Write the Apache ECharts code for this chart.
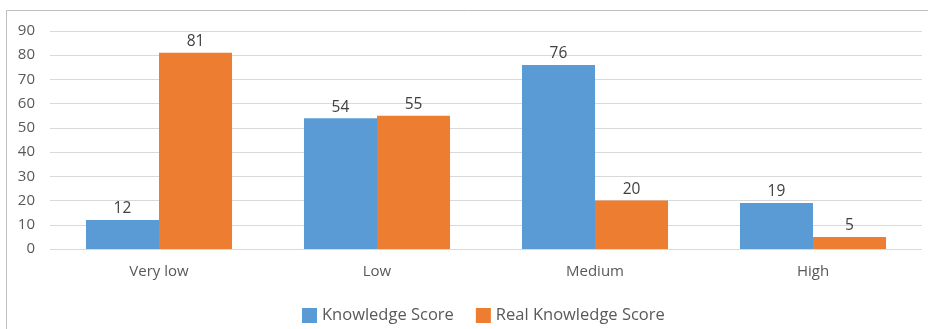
<!DOCTYPE html>
<html>
<head>
<meta charset="utf-8">
<script src="https://cdn.jsdelivr.net/npm/echarts@6/dist/echarts.min.js"></script>
<style>
  html, body { margin: 0; padding: 0; background: #fff; }
  #chart { width: 928px; height: 329px; }
</style>
</head>
<body>
<div id="chart"></div>
<script>
// data
var categories = ["Very low", "Low", "Medium", "High"];
var knowledgeScore = [12, 54, 76, 19];
var realKnowledgeScore = [81, 55, 20, 5];
var seriesNames = ["Knowledge Score", "Real Knowledge Score"];

var chart = echarts.init(document.getElementById("chart"), null, { renderer: "canvas" });

var labelStyle = {
  show: true,
  position: "top",
  color: "#404040",
  fontSize: 15.5,
  fontFamily: "Open Sans",
  distance: 3
};

chart.setOption({
  animation: false,
  textStyle: { fontFamily: "Open Sans" },
  // outer chart border
  graphic: [{
    type: "rect",
    shape: { x: 6.5, y: 10.5, width: 940, height: 340 },
    style: { fill: null, stroke: "#bfbfbf", lineWidth: 1 },
    silent: true
  }],
  grid: { left: 50, right: 6, top: 31, bottom: 80 },
  legend: {
    data: seriesNames,
    bottom: 0,
    left: 297,
    icon: "rect",
    itemWidth: 15,
    itemHeight: 15,
    itemGap: 22,
    textStyle: { color: "#595959", fontSize: 16.5, fontFamily: "Open Sans" }
  },
  xAxis: {
    type: "category",
    data: categories,
    axisLine: { show: false },
    axisTick: { show: false },
    axisLabel: { color: "#595959", fontSize: 15, margin: 15 }
  },
  yAxis: {
    type: "value",
    min: 0,
    max: 90,
    interval: 10,
    axisLine: { show: false },
    axisTick: { show: false },
    axisLabel: { color: "#595959", fontSize: 15, margin: 15 },
    splitLine: { lineStyle: { color: "#d9d9d9", width: 1 } }
  },
  series: [
    {
      name: seriesNames[0],
      type: "bar",
      data: knowledgeScore,
      barGap: "0%",
      barCategoryGap: "33%",
      itemStyle: { color: "#5b9bd5" },
      label: labelStyle
    },
    {
      name: seriesNames[1],
      type: "bar",
      data: realKnowledgeScore,
      itemStyle: { color: "#ed7d31" },
      label: labelStyle
    }
  ]
});
</script>
</body>
</html>
